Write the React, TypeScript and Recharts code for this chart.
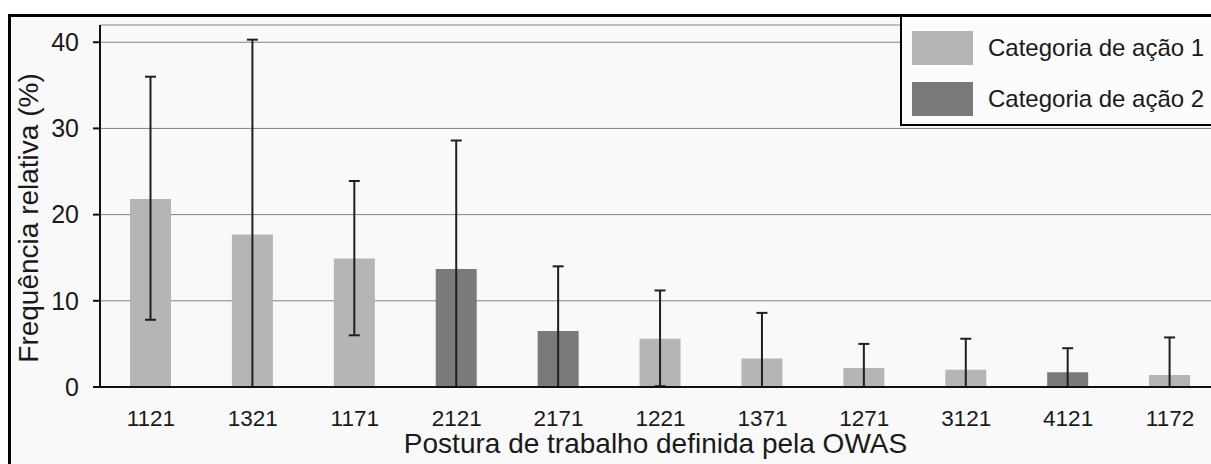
import { BarChart, Bar, XAxis, YAxis, CartesianGrid, ErrorBar, Legend } from "recharts";

// postures (OWAS codes), in the order shown
const codes = ["1121", "1321", "1171", "2121", "2171", "1221", "1371", "1271", "3121", "4121", "1172"];
// action category of each posture (1 or 2)
const actionCategory = [1, 1, 1, 2, 2, 1, 1, 1, 1, 2, 1];
// mean relative frequency (%)
const meanFreq = [21.8, 17.7, 14.9, 13.7, 6.5, 5.6, 3.3, 2.2, 2.0, 1.7, 1.4];
// error bar limits (%)
const upperLimit = [36.0, 40.3, 23.9, 28.6, 14.0, 11.2, 8.6, 5.0, 5.6, 4.5, 5.75];
const lowerLimit = [7.8, 0, 6.0, 0, 0, 0.1, 0, 0, 0, 0, 0];

const yTicks = [0, 10, 20, 30, 40];
const seriesNames = ["Categoria de ação 1", "Categoria de ação 2"];
const yTitle = "Frequência relativa (%)";
const xTitle = "Postura de trabalho definida pela OWAS";

const LIGHT = "#b5b5b5";
const DARK = "#7a7a7a";
const INK = "#1a1a1a";
const FONT = 'Arial, "Liberation Sans", sans-serif';

const rows = codes.map((code, i) => {
  const err = [meanFreq[i] - lowerLimit[i], upperLimit[i] - meanFreq[i]];
  const cat = actionCategory[i];
  return {
    code,
    c1: cat === 1 ? meanFreq[i] : null,
    c2: cat === 2 ? meanFreq[i] : null,
    e1: cat === 1 ? err : undefined,
    e2: cat === 2 ? err : undefined,
  };
});

// band boundaries for the little tick marks under the x axis
const boundaryTicks = codes.map((_, i) => i).concat(codes.length);

const CodeTick = (props: any) => {
  const { x, y, payload } = props;
  return (
    <text x={x} y={y} dy={16} textAnchor="middle" fontSize={22.5} fontFamily={FONT} fill={INK}>
      {payload.value}
    </text>
  );
};

const renderYTitle = (props: any) => {
  const { viewBox, value } = props;
  const cx = viewBox.x + 38;
  const cy = viewBox.y + viewBox.height / 2 + 12;
  return (
    <text
      x={cx}
      y={cy}
      transform={`rotate(-90 ${cx} ${cy})`}
      textAnchor="middle"
      fontSize={28}
      fontFamily={FONT}
      fill={INK}
    >
      {value}
    </text>
  );
};

const renderXTitle = (props: any) => {
  const { viewBox, value } = props;
  return (
    <text
      x={viewBox.x + viewBox.width / 2 - 5}
      y={viewBox.y + 66}
      textAnchor="middle"
      fontSize={28}
      fontFamily={FONT}
      fill={INK}
    >
      {value}
    </text>
  );
};

const renderLegend = (props: any) => {
  const { payload } = props;
  return (
    <div
      style={{
        boxSizing: "border-box",
        width: 340,
        height: 111,
        border: "2px solid #000",
        background: "#fcfcfc",
        padding: "14px 0 0 10px",
        fontFamily: FONT,
      }}
    >
      {(payload || []).map((p: any, i: number) => (
        <div key={i} style={{ display: "flex", alignItems: "center", height: 34, marginBottom: 17 }}>
          <div style={{ width: 61, height: 34, background: p.color }} />
          <span style={{ marginLeft: 15, fontSize: 24, color: INK, whiteSpace: "nowrap" }}>{p.value}</span>
        </div>
      ))}
    </div>
  );
};

export default function App() {
  return (
    <div
      style={{
        position: "fixed",
        left: 0,
        top: 0,
        width: 1211,
        height: 464,
        overflow: "hidden",
        background: "#fff",
        fontFamily: FONT,
      }}
    >
      {/* figure frame */}
      <div
        style={{
          position: "absolute",
          left: 8,
          top: 14,
          width: 1260,
          height: 500,
          boxSizing: "border-box",
          borderLeft: "3px solid #000",
          borderTop: "3px solid #000",
          background: "#f9f9f9",
        }}
      />
      <div style={{ position: "absolute", left: 0, top: 0 }}>
        <BarChart width={1232} height={464} data={rows} margin={{ top: 25, right: 11, left: 0, bottom: 0 }}>
          <CartesianGrid vertical={false} stroke="#828282" />
          <XAxis
            dataKey="code"
            height={77}
            tickLine={false}
            tickSize={0}
            tickMargin={23}
            axisLine={{ stroke: "#111", strokeWidth: 2 }}
            tick={<CodeTick />}
            interval={0}
            label={{ value: xTitle, content: renderXTitle }}
          />
          <XAxis
            xAxisId="bounds"
            type="number"
            domain={[0, codes.length]}
            allowDataOverflow
            ticks={boundaryTicks}
            interval={0}
            height={0}
            tick={false}
            tickSize={6}
            axisLine={false}
            tickLine={{ stroke: "#111", strokeWidth: 2 }}
          />
          <YAxis
            width={100}
            domain={[0, 42]}
            ticks={yTicks}
            interval={0}
            tickSize={7}
            tickMargin={14}
            axisLine={{ stroke: "#111", strokeWidth: 2 }}
            tickLine={{ stroke: "#111", strokeWidth: 2 }}
            tick={{ fontSize: 25, fill: INK, fontFamily: FONT }}
            label={{ value: yTitle, content: renderYTitle }}
          />
          <Legend
            layout="vertical"
            align="center"
            verticalAlign="middle"
            content={renderLegend}
            wrapperStyle={{ left: 900, top: 15, width: 340, height: 111 }}
          />
          <Bar dataKey="c1" name={seriesNames[0]} stackId="s" fill={LIGHT} barSize={41} isAnimationActive={false}>
            <ErrorBar dataKey="e1" width={5.5} stroke="#1f1f1f" strokeWidth={2} />
          </Bar>
          <Bar dataKey="c2" name={seriesNames[1]} stackId="s" fill={DARK} barSize={41} isAnimationActive={false}>
            <ErrorBar dataKey="e2" width={5.5} stroke="#1f1f1f" strokeWidth={2} />
          </Bar>
        </BarChart>
      </div>
    </div>
  );
}
